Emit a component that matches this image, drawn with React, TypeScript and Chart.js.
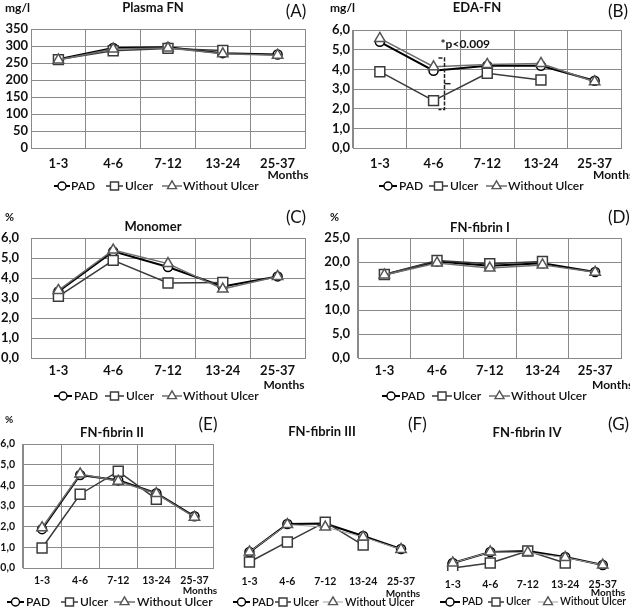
import React, { useEffect, useRef } from 'react';
import { Chart, registerables } from 'chart.js';

Chart.register(...registerables);

const FONT = 'Lato, "Open Sans", "DejaVu Sans", sans-serif';
const TEXT = '#111';
const GRID = '#8a8a8a';

// ---------- data ----------
const MONTHS = ['1-3', '4-6', '7-12', '13-24', '25-37'];
const SERIES = ['PAD', 'Ulcer', 'Without Ulcer'];

// (A) Plasma FN (mg/l)
const PLASMA_PAD = [261, 294, 296, 279, 275];
const PLASMA_ULCER = [260, 286, 293, 287, null];
const PLASMA_WITHOUT = [259, 291, 294, 277, 273];

// (B) EDA-FN (mg/l)
const EDA_PAD = [5.4, 3.93, 4.18, 4.18, 3.42];
const EDA_ULCER = [3.88, 2.41, 3.8, 3.46, null];
const EDA_WITHOUT = [5.57, 4.13, 4.25, 4.3, 3.37];

// (C) Monomer (%)
const MONO_PAD = [3.33, 5.33, 4.55, 3.58, 4.08];
const MONO_ULCER = [3.08, 4.88, 3.75, 3.78, null];
const MONO_WITHOUT = [3.38, 5.4, 4.72, 3.45, 4.08];

// (D) FN-fibrin I (%)
const FIB1_PAD = [17.35, 20.1, 19.2, 19.75, 17.9];
const FIB1_ULCER = [17.4, 20.3, 19.65, 20.1, null];
const FIB1_WITHOUT = [17.3, 19.8, 18.75, 19.4, 17.85];

// (E) FN-fibrin II (%)
const FIB2_PAD = [1.88, 4.5, 4.25, 3.62, 2.5];
const FIB2_ULCER = [0.97, 3.57, 4.68, 3.33, null];
const FIB2_WITHOUT = [1.95, 4.55, 4.2, 3.6, 2.46];

// (F) FN-fibrin III (%)
const FIB3_PAD = [0.77, 2.13, 2.15, 1.55, 0.92];
const FIB3_ULCER = [0.29, 1.26, 2.22, 1.11, null];
const FIB3_WITHOUT = [0.78, 2.1, 1.98, 1.5, 0.9];

// (G) FN-fibrin IV (%)
const FIB4_PAD = [0.39, 0.92, 0.97, 0.68, 0.29];
const FIB4_ULCER = [0.15, 0.39, 0.97, 0.39, null];
const FIB4_WITHOUT = [0.39, 0.92, 0.9, 0.65, 0.29];

// ---------- helpers ----------
type Txt = { text: string; x: number; y: number; size: number; bold?: boolean; align?: CanvasTextAlign };

type PanelCfg = {
  box: [number, number, number, number];
  plot: [number, number, number, number];
  yMin: number;
  yMax: number;
  yStep: number;
  decimals: number;
  showY: boolean;
  grid: boolean;
  tickSize: number;
  yPad: number;
  xPad: number;
  pad: (number | null)[];
  ulcer: (number | null)[];
  without: (number | null)[];
  withoutColor?: string;
  withoutWidth?: number;
  texts: Txt[];
  legendY: number;
  legendSize: number;
  legend: [number, number, number][];
  extra?: (chart: any) => void;
};

const LEGEND_R: Record<string, number> = { circle: 4, rect: 5.7, triangle: 5.2 };

function drawMarker(ctx: CanvasRenderingContext2D, style: string, x: number, y: number, r: number) {
  ctx.beginPath();
  if (style === 'circle') {
    ctx.arc(x, y, r, 0, Math.PI * 2);
  } else if (style === 'rect') {
    const h = r * Math.SQRT1_2;
    ctx.rect(x - h, y - h, 2 * h, 2 * h);
  } else {
    ctx.moveTo(x, y - r);
    ctx.lineTo(x + 0.866 * r, y + 0.5 * r);
    ctx.lineTo(x - 0.866 * r, y + 0.5 * r);
    ctx.closePath();
  }
  ctx.fill();
  ctx.stroke();
}

function makeChart(canvas: HTMLCanvasElement, cfg: PanelCfg) {
  const [, , W, H] = cfg.box;
  const [pl, pt, pr, pb] = cfg.plot;
  const withoutColor = cfg.withoutColor || '#6e6e6e';
  const withoutWidth = cfg.withoutWidth || 1.5;
  const fmt = (v: number) => (cfg.decimals ? v.toFixed(cfg.decimals).replace('.', ',') : String(v));
  const tickFont = { family: FONT, size: cfg.tickSize, weight: 'bold' as const };

  const overlay = {
    id: 'overlay',
    afterDraw(chart: any) {
      const ctx: CanvasRenderingContext2D = chart.ctx;
      ctx.save();
      ctx.fillStyle = TEXT;
      ctx.textBaseline = 'middle';
      for (const t of cfg.texts) {
        ctx.font = `${t.bold ? 'bold ' : ''}${t.size}px ${FONT}`;
        ctx.textAlign = t.align || 'center';
        ctx.fillText(t.text, t.x, t.y);
      }
      // legend
      cfg.legend.forEach((it, i) => {
        const ds = chart.data.datasets[i];
        ctx.strokeStyle = ds.borderColor;
        ctx.lineWidth = ds.borderWidth;
        ctx.beginPath();
        ctx.moveTo(it[0], cfg.legendY);
        ctx.lineTo(it[1], cfg.legendY);
        ctx.stroke();
        ctx.fillStyle = '#fff';
        ctx.strokeStyle = ds.pointBorderColor;
        ctx.lineWidth = 1.4;
        drawMarker(ctx, ds.pointStyle, (it[0] + it[1]) / 2, cfg.legendY, LEGEND_R[ds.pointStyle]);
        ctx.fillStyle = TEXT;
        ctx.font = `600 ${cfg.legendSize}px ${FONT}`;
        ctx.textAlign = 'left';
        ctx.fillText(SERIES[i], it[2], cfg.legendY);
      });
      if (cfg.extra) cfg.extra(chart);
      ctx.restore();
    },
  };

  return new Chart(canvas, {
    type: 'line',
    data: {
      labels: MONTHS,
      datasets: [
        {
          label: SERIES[0], data: cfg.pad, borderColor: '#000', borderWidth: 2,
          pointStyle: 'circle', pointRadius: 4.5, pointBorderWidth: 1.5,
          pointBackgroundColor: '#fff', pointBorderColor: '#000', tension: 0, order: 3,
        },
        {
          label: SERIES[1], data: cfg.ulcer, borderColor: '#3a3a3a', borderWidth: 1.5,
          pointStyle: 'rect', pointRadius: 7, pointBorderWidth: 1.5,
          pointBackgroundColor: '#fff', pointBorderColor: '#3a3a3a', tension: 0, order: 2,
        },
        {
          label: SERIES[2], data: cfg.without, borderColor: withoutColor, borderWidth: withoutWidth,
          pointStyle: 'triangle', pointRadius: 6, pointBorderWidth: 1.5,
          pointBackgroundColor: '#fff', pointBorderColor: '#555', tension: 0, order: 1,
        },
      ] as any,
    },
    options: {
      responsive: false,
      animation: false,
      layout: { padding: { left: cfg.showY ? 0 : pl, top: pt, right: W - pr, bottom: 0 } },
      plugins: { legend: { display: false }, tooltip: { enabled: false }, title: { display: false } },
      scales: {
        x: {
          offset: true,
          grid: { display: cfg.grid, offset: true, color: GRID, drawTicks: false },
          border: { display: cfg.grid, color: GRID },
          ticks: { font: tickFont, color: TEXT, padding: cfg.xPad, maxRotation: 0, autoSkip: false },
          afterFit: (s: any) => { s.height = H - pb; },
        },
        y: {
          display: cfg.showY,
          min: cfg.yMin,
          max: cfg.yMax,
          grid: { display: cfg.grid, color: GRID, drawTicks: false },
          border: { display: cfg.grid, color: GRID },
          ticks: {
            stepSize: cfg.yStep, autoSkip: false, maxTicksLimit: 50,
            font: tickFont, color: TEXT, padding: cfg.yPad, callback: (v: any) => fmt(Number(v)),
          },
          afterFit: (s: any) => { s.width = pl; },
        },
      },
    } as any,
    plugins: [overlay],
  });
}

const edaBracket = (chart: any) => {
  const ctx: CanvasRenderingContext2D = chart.ctx;
  const xs = chart.scales.x;
  const ys = chart.scales.y;
  const bx = Math.round(xs.getPixelForValue(1) + 10) + 0.5;
  const top = ys.getPixelForValue((EDA_WITHOUT[1] as number) + 0.45);
  const bot = ys.getPixelForValue((EDA_ULCER[1] as number) - 0.45);
  const mid = (ys.getPixelForValue(EDA_WITHOUT[1] as number) + ys.getPixelForValue(EDA_ULCER[1] as number)) / 2;
  ctx.strokeStyle = '#222';
  ctx.lineWidth = 1.5;
  ctx.setLineDash([4, 1.5]);
  ctx.beginPath();
  ctx.moveTo(bx - 6, top);
  ctx.lineTo(bx, top);
  ctx.lineTo(bx, bot);
  ctx.lineTo(bx - 6, bot);
  ctx.stroke();
  ctx.setLineDash([]);
  ctx.beginPath();
  ctx.moveTo(bx, mid);
  ctx.lineTo(bx + 6, mid);
  ctx.stroke();
  ctx.fillStyle = TEXT;
  ctx.font = `bold 12px ${FONT}`;
  ctx.textAlign = 'left';
  ctx.textBaseline = 'middle';
  ctx.fillText('*p<0.009', bx - 4, top - 14);
};

const PANELS: PanelCfg[] = [
  {
    box: [0, 0, 315, 195], plot: [31, 29, 305, 148],
    yMin: 0, yMax: 350, yStep: 50, decimals: 0, showY: true, grid: true, tickSize: 13, yPad: 3, xPad: 8,
    pad: PLASMA_PAD, ulcer: PLASMA_ULCER, without: PLASMA_WITHOUT,
    texts: [
      { text: 'mg/l', x: 5, y: 8, size: 12, bold: true, align: 'left' },
      { text: 'Plasma FN', x: 153, y: 8, size: 13, bold: true },
      { text: '(A)', x: 296, y: 12, size: 17 },
      { text: 'Months', x: 288, y: 175, size: 12, bold: true },
    ],
    legendY: 186, legendSize: 12, legend: [[54, 70, 71], [106, 123, 125], [162, 182, 183]],
  },
  {
    box: [315, 0, 315, 195], plot: [38, 30, 310, 148],
    yMin: 0, yMax: 6, yStep: 1, decimals: 1, showY: true, grid: true, tickSize: 13, yPad: 3, xPad: 8,
    pad: EDA_PAD, ulcer: EDA_ULCER, without: EDA_WITHOUT,
    texts: [
      { text: 'mg/l', x: 15, y: 8, size: 12, bold: true, align: 'left' },
      { text: 'EDA-FN', x: 162, y: 8, size: 13, bold: true },
      { text: '(B)', x: 293, y: 12, size: 17, align: 'left' },
      { text: 'Months', x: 278, y: 175, size: 12, bold: true, align: 'left' },
    ],
    legendY: 186, legendSize: 12, legend: [[64, 82, 84], [114, 133, 135], [171, 192, 193]],
    extra: edaBracket,
  },
  {
    box: [0, 195, 315, 210], plot: [31, 43, 305, 163],
    yMin: 0, yMax: 6, yStep: 1, decimals: 1, showY: true, grid: true, tickSize: 13, yPad: 12, xPad: 5,
    pad: MONO_PAD, ulcer: MONO_ULCER, without: MONO_WITHOUT,
    texts: [
      { text: '%', x: 5, y: 22, size: 11, bold: true, align: 'left' },
      { text: 'Monomer', x: 153, y: 32, size: 13, bold: true },
      { text: '(C)', x: 296, y: 23, size: 17 },
      { text: 'Months', x: 284, y: 190, size: 12, bold: true },
    ],
    legendY: 201, legendSize: 12, legend: [[54, 72, 74], [105, 124, 126], [162, 182, 183]],
  },
  {
    box: [315, 195, 315, 210], plot: [43, 43, 310, 163],
    yMin: 0, yMax: 25, yStep: 5, decimals: 1, showY: true, grid: true, tickSize: 13, yPad: 8, xPad: 5,
    pad: FIB1_PAD, ulcer: FIB1_ULCER, without: FIB1_WITHOUT,
    texts: [
      { text: '%', x: 15, y: 22, size: 11, bold: true, align: 'left' },
      { text: 'FN-fibrin I', x: 165, y: 33, size: 13, bold: true },
      { text: '(D)', x: 293, y: 23, size: 17, align: 'left' },
      { text: 'Months', x: 277, y: 190, size: 12, bold: true, align: 'left' },
    ],
    legendY: 201, legendSize: 12, legend: [[67, 85, 86], [117, 137, 138], [174, 195, 196]],
  },
  {
    box: [0, 400, 222, 208], plot: [23, 44, 218, 168],
    yMin: 0, yMax: 6, yStep: 1, decimals: 1, showY: true, grid: true, tickSize: 10.5, yPad: 8, xPad: 6,
    pad: FIB2_PAD, ulcer: FIB2_ULCER, without: FIB2_WITHOUT,
    texts: [
      { text: '%', x: 5, y: 20, size: 10, bold: true, align: 'left' },
      { text: 'FN-fibrin II', x: 112, y: 33, size: 13, bold: true },
      { text: '(E)', x: 208, y: 25, size: 17 },
      { text: 'Months', x: 200, y: 191, size: 10, bold: true },
    ],
    legendY: 202, legendSize: 12, legend: [[7, 24, 26], [61, 78, 80], [114, 135, 137]],
  },
  {
    box: [222, 400, 212, 208], plot: [2, 44, 198, 168],
    yMin: 0, yMax: 6, yStep: 1, decimals: 1, showY: false, grid: false, tickSize: 10.5, yPad: 8, xPad: 7,
    pad: FIB3_PAD, ulcer: FIB3_ULCER, without: FIB3_WITHOUT, withoutColor: '#a0a0a0', withoutWidth: 1,
    texts: [
      { text: 'FN-fibrin III', x: 100, y: 32, size: 13, bold: true },
      { text: '(F)', x: 186, y: 25, size: 17, align: 'left' },
      { text: 'Months', x: 181, y: 194, size: 10, bold: true },
    ],
    legendY: 202, legendSize: 11, legend: [[11, 28, 30], [53, 69, 71], [101, 121, 123]],
  },
  {
    box: [420, 400, 210, 208], plot: [7, 47, 204, 171],
    yMin: 0, yMax: 6, yStep: 1, decimals: 1, showY: false, grid: false, tickSize: 10.5, yPad: 8, xPad: 7,
    pad: FIB4_PAD, ulcer: FIB4_ULCER, without: FIB4_WITHOUT, withoutColor: '#a0a0a0', withoutWidth: 1,
    texts: [
      { text: 'FN-fibrin IV', x: 107, y: 33, size: 13, bold: true },
      { text: '(G)', x: 188, y: 25, size: 17, align: 'left' },
      { text: 'Months', x: 188, y: 193, size: 10, bold: true },
    ],
    legendY: 202, legendSize: 10.5, legend: [[20, 40, 42], [68, 84, 86], [118, 138, 140]],
  },
];

function Panel({ cfg }: { cfg: PanelCfg }) {
  const ref = useRef<HTMLCanvasElement>(null);
  useEffect(() => {
    if (!ref.current) return;
    const chart = makeChart(ref.current, cfg);
    return () => chart.destroy();
  }, [cfg]);
  const [x, y, w, h] = cfg.box;
  return (
    <div style={{ position: 'absolute', left: x, top: y, width: w, height: h }}>
      <canvas ref={ref} width={w} height={h} style={{ width: w, height: h, display: 'block' }} />
    </div>
  );
}

export default function App() {
  return (
    <div style={{ position: 'absolute', left: 0, top: 0, width: 630, height: 608, background: '#fff', overflow: 'hidden' }}>
      {PANELS.map((p, i) => (
        <Panel key={i} cfg={p} />
      ))}
    </div>
  );
}
